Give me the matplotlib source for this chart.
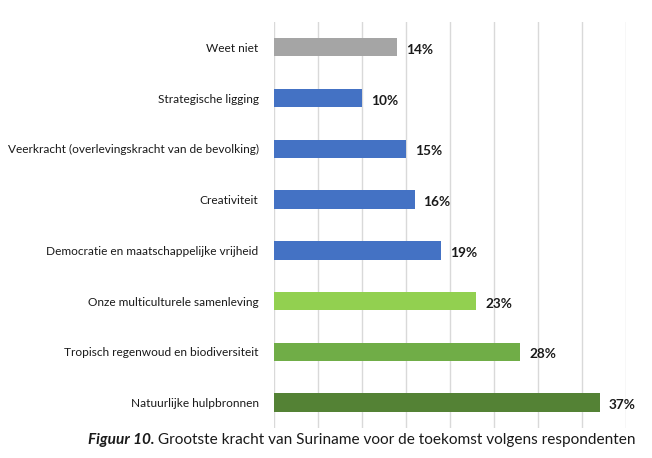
import matplotlib.pyplot as plt

# Données (de haut en bas)
labels = [
    "Weet niet",
    "Strategische ligging",
    "Veerkracht (overlevingskracht van de bevolking)",
    "Creativiteit",
    "Democratie en maatschappelijke vrijheid",
    "Onze multiculturele samenleving",
    "Tropisch regenwoud en biodiversiteit",
    "Natuurlijke hulpbronnen",
]
values = [14, 10, 15, 16, 19, 23, 28, 37]
colors = ["#A5A5A5", "#4472C4", "#4472C4", "#4472C4", "#4472C4",
          "#92D050", "#70AD47", "#548235"]

GRID = "#D9D9D9"
TEXT = "#1a1a1a"

plt.rcParams["font.family"] = ["Lato", "DejaVu Sans"]

fig = plt.figure(figsize=(6.52, 4.58), dpi=100)
ax = fig.add_axes([0.420, 0.0655, 0.540, 0.8865])

y = list(range(len(labels)))
ax.barh(y, values, color=colors, height=0.36, zorder=3)
ax.set_ylim(len(labels) - 0.5, -0.5)
ax.set_xlim(0, 40)
ax.set_xticks(range(0, 41, 5))
ax.set_xticklabels([])
ax.set_yticks(y)
ax.set_yticklabels(labels, fontsize=8.6, color=TEXT)
ax.tick_params(axis="both", length=0, pad=11)
ax.grid(axis="x", color=GRID, linewidth=1, zorder=0)
ax.grid(axis="y", visible=False)
for s in ax.spines.values():
    s.set_visible(False)

for yi, v in zip(y, values):
    ax.text(v + 1.0, yi + 0.05, f"{v}%", ha="left", va="center",
            fontsize=9.8, fontweight="bold", color=TEXT)

# Légende / titre en bas
t1 = fig.text(88 / 652, 1 - 440 / 458, "Figuur 10.", fontsize=11.1,
              fontweight="bold", fontstyle="italic", color=TEXT,
              ha="left", va="center")
fig.canvas.draw()
ax.annotate(" Grootste kracht van Suriname voor de toekomst volgens respondenten",
            xy=(1, 0), xycoords=t1, ha="left", va="bottom",
            fontsize=11.1, color=TEXT, annotation_clip=False)

fig.savefig("out.png", dpi=100)
